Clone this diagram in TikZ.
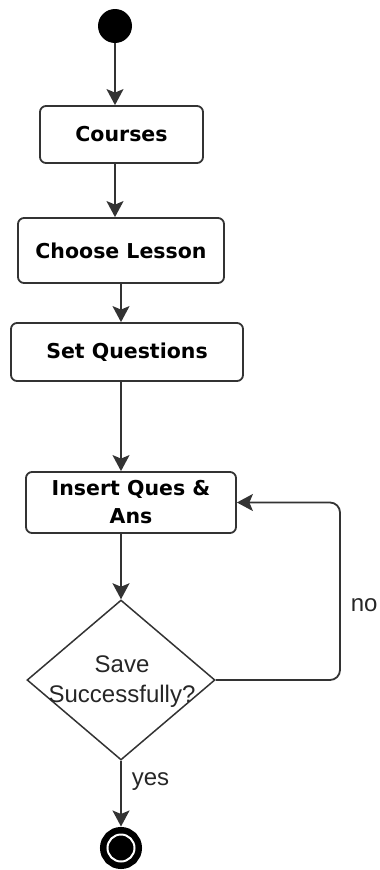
\documentclass[tikz,border=0pt]{standalone}
\usepackage{fontspec}
\setmainfont{Liberation Sans}
\newfontfamily\actfont{DejaVu Sans}
\usetikzlibrary{shapes.geometric,arrows.meta}
\begin{document}
\begin{tikzpicture}
    [   x=1pt,y=-1pt,
        actnode/.style={draw=black!80,line width=1.8pt,rounded corners=6pt,minimum width=#1,inner sep=0pt,align=center,font=\actfont\bfseries\fontsize{20.5}{28}\selectfont},
        dnode/.style={diamond,draw=black!80,line width=1.5pt,minimum width=188pt,minimum height=160pt,inner sep=0pt},
        lbl/.style={font=\fontsize{24}{30}\selectfont,text=black!85,align=center},
        flow/.style={draw=black!80,line width=1.8pt,-{Stealth[length=16pt,width=17pt,inset=3.5pt]}},
    ]
    \useasboundingbox (0,0) rectangle (380,870);
    \node[circle,fill=black,minimum size=34pt,inner sep=0pt] (start) at (115,26) {};
    \foreach \n/\x/\y/\w/\h/\t in {courses/121.5/134.5/163/57/Courses,
                                   choose/121/250.5/206/65/Choose Lesson,
                                   setq/127/352/232/58/Set Questions,
                                   insert/131/502.5/210/61/{Insert Ques \&\\Ans}}
    {   \node[actnode=\w,minimum height=\h] (\n) at (\x,\y) {\t};
    }
    \node[dnode] (save) at (121,680) {};
    \node[lbl] (savetext) at (122,682) {Save\\Successfully?};
    \node[circle,fill=black,draw=black,double=white,double distance=2pt,line width=6.5pt,
          minimum size=27pt,inner sep=0pt,outer sep=8pt] (final) at (121,848) {};
    \coordinate (back) at (340,0);
    % main flow
    \draw[flow] (start) -- (start |- courses.north);
    \draw[flow] (courses.south -| start) -- (choose.north -| start);
    \draw[flow] (choose.south) -- (choose.south |- setq.north);
    \draw[flow] (setq.south -| save) -- (insert.north -| save);
    \draw[flow] (insert.south -| save) -- (save.north);
    \draw[flow] (save.south) -- node[lbl,right,pos=0.32,inner sep=10pt] {yes} (final.north);
    % retry loop
    \draw[flow,rounded corners=10pt] (save.east) -- (save.east -| back)
        -- node[lbl,right,pos=0.42,inner sep=10pt] {no} (back |- insert.east) -- (insert.east);
\end{tikzpicture}
\end{document}
